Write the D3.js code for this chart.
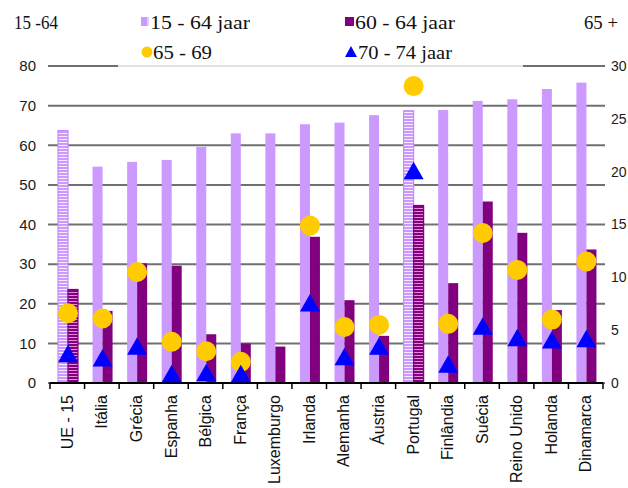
<!DOCTYPE html>
<html>
<head>
<meta charset="utf-8">
<script src="https://cdn.jsdelivr.net/npm/d3@7"></script>
<style>
  body { margin: 0; background: #fff; }
  svg { display: block; }
</style>
</head>
<body>
<svg id="chart" width="628" height="488"></svg>
<script>
// Employment rate by age group, EU-15 and member states
const categories = ["UE - 15", "Itália", "Grécia", "Espanha", "Bélgica", "França", "Luxemburgo",
  "Irlanda", "Alemanha", "Áustria", "Portugal", "Finlândia", "Suécia", "Reino Unido", "Holanda", "Dinamarca"];
const age15to64 = [63.7, 54.6, 55.8, 56.3, 59.6, 63.0, 63.0, 65.3, 65.7, 67.6, 68.7, 68.9, 71.2, 71.6, 74.2, 75.8];
const age60to64 = [23.6, 18.2, 30.2, 29.6, 12.3, 10.0, 9.2, 36.9, 20.9, 11.9, 44.8, 25.2, 45.8, 37.9, 18.4, 33.7];
const age65to69 = [6.6, 6.1, 10.5, 3.9, 3.0, 2.0, null, 14.9, 5.3, 5.5, 28.1, 5.6, 14.2, 10.7, 6.0, 11.5];
const age70to74 = [2.8, 2.4, 3.5, 0.9, 1.0, 0.9, null, 7.6, 2.5, 3.5, 20.1, 1.8, 5.4, 4.3, 4.1, 4.2];
const leftTicks = [0, 10, 20, 30, 40, 50, 60, 70, 80];
const rightTicks = [0, 5, 10, 15, 20, 25, 30];
const highlighted = ["UE - 15", "Portugal"];
const seriesNames = ["15 - 64 jaar", "60 - 64 jaar", "65 - 69", "70 - 74 jaar"];

const LIGHT = "#cc99ff", DARK = "#800080", GOLD = "#ffcc00", BLUE = "#0000ff";

const svg = d3.select("#chart");
const sans = "'Liberation Sans', Arial, sans-serif";
const serif = "'Liberation Serif', 'Times New Roman', serif";

const x = d3.scaleBand().domain(categories).range([50, 603]);
const sub = d3.scaleBand().domain(["15-64", "60-64"]).range([8, 28]);
const yL = d3.scaleLinear().domain([0, 80]).range([383, 66]);
const yR = d3.scaleLinear().domain([0, 30]).range([383, 66]);

// striped fills for the highlighted countries
const defs = svg.append("defs");
function stripes(id, base, line) {
  const p = defs.append("pattern").attr("id", id)
    .attr("patternUnits", "userSpaceOnUse").attr("width", 4).attr("height", 3);
  p.append("rect").attr("width", 4).attr("height", 3).attr("fill", base);
  p.append("rect").attr("y", 1).attr("width", 4).attr("height", 1).attr("fill", line);
}
stripes("hatchLight", LIGHT, "#f6eeff");
stripes("hatchDark", DARK, "#e58ad6");

// horizontal gridlines
svg.append("g").selectAll("line").data(leftTicks).join("line")
  .attr("x1", 48).attr("x2", 605)
  .attr("y1", d => yL(d)).attr("y2", d => yL(d))
  .attr("stroke", "#707070").attr("stroke-width", 2);

// left axis labels
svg.append("g").selectAll("text").data(leftTicks).join("text")
  .attr("x", 36).attr("y", d => yL(d)).attr("dy", "0.35em")
  .attr("text-anchor", "end").attr("font-family", sans).attr("font-size", 15)
  .attr("fill", "#1a1a1a").text(d => d);

// right axis labels
svg.append("g").selectAll("text").data(rightTicks).join("text")
  .attr("x", 611).attr("y", d => yR(d)).attr("dy", "0.35em")
  .attr("text-anchor", "start").attr("font-family", sans).attr("font-size", 14)
  .attr("fill", "#1a1a1a").text(d => d);

const rows = categories.map((c, i) => ({
  c, a: age15to64[i], b: age60to64[i], m1: age65to69[i], m2: age70to74[i],
  hl: highlighted.includes(c)
}));

// 15-64 bars
svg.append("g").selectAll("rect").data(rows).join("rect")
  .attr("x", d => x(d.c) + sub("15-64"))
  .attr("width", sub.bandwidth())
  .attr("y", d => yL(d.a))
  .attr("height", d => yL(0) - yL(d.a))
  .attr("fill", d => d.hl ? "url(#hatchLight)" : LIGHT)
  .attr("stroke", d => d.hl ? "#c58cf5" : "none")
  .attr("stroke-width", 1.2);

// 60-64 bars
svg.append("g").selectAll("rect").data(rows).join("rect")
  .attr("x", d => x(d.c) + sub("60-64"))
  .attr("width", sub.bandwidth())
  .attr("y", d => yL(d.b))
  .attr("height", d => yL(0) - yL(d.b))
  .attr("fill", d => d.hl ? "url(#hatchDark)" : DARK)
  .attr("stroke", d => d.hl ? DARK : "none")
  .attr("stroke-width", 1.2);

// base line with category ticks
const base = svg.append("g");
base.append("line").attr("x1", 50).attr("x2", 603).attr("y1", yL(0)).attr("y2", yL(0))
  .attr("stroke", "#000").attr("stroke-width", 2);
base.selectAll("line.tick").data(categories.concat(["end"])).join("line").attr("class", "tick")
  .attr("x1", (d, i) => 50 + i * x.step()).attr("x2", (d, i) => 50 + i * x.step())
  .attr("y1", yL(0)).attr("y2", yL(0) + 6)
  .attr("stroke", "#000").attr("stroke-width", 1.5);

// marker x position: between the two bars of a country
const mx = d => x(d.c) + sub("60-64");

// 65-69 circles (right axis)
svg.append("g").selectAll("circle").data(rows.filter(d => d.m1 != null)).join("circle")
  .attr("cx", mx).attr("cy", d => yR(d.m1)).attr("r", 10)
  .attr("fill", GOLD);

// 70-74 triangles (right axis)
const tri = (cx, cy) => `M${cx},${cy - 8.75}L${cx + 10},${cy + 8.75}L${cx - 10},${cy + 8.75}Z`;
svg.append("g").selectAll("path").data(rows.filter(d => d.m2 != null)).join("path")
  .attr("d", d => tri(mx(d), yR(d.m2)))
  .attr("fill", BLUE);

// category labels, rotated
svg.append("g").selectAll("text").data(categories).join("text")
  .attr("transform", d => `translate(${x(d) + x.bandwidth() / 2},395) rotate(-90)`)
  .attr("dy", "0.35em").attr("text-anchor", "end")
  .attr("font-family", sans).attr("font-size", 16).attr("fill", "#111")
  .text(d => d);

// legend
const lg = svg.append("g");
lg.append("rect").attr("x", 118).attr("y", 4).attr("width", 405).attr("height", 63)
  .attr("fill", "#fff").attr("fill-opacity", 0.8);
const legendItems = [
  { name: seriesNames[0], kind: "light", x: 150, y: 29, w: 100 },
  { name: seriesNames[1], kind: "dark", x: 355, y: 29, w: 100 },
  { name: seriesNames[2], kind: "circle", x: 153, y: 59, w: 59 },
  { name: seriesNames[3], kind: "tri", x: 358, y: 59, w: 94 }
];
legendItems.forEach(it => {
  const cy = it.y - 7;
  if (it.kind === "light") {
    lg.append("rect").attr("x", it.x - 9).attr("y", cy - 5).attr("width", 6).attr("height", 9).attr("fill", LIGHT);
    lg.append("rect").attr("x", it.x - 3).attr("y", cy - 5).attr("width", 2).attr("height", 9).attr("fill", "#e3ccff");
  } else if (it.kind === "dark") {
    lg.append("rect").attr("x", it.x - 10).attr("y", cy - 5).attr("width", 9).attr("height", 9).attr("fill", DARK);
  } else if (it.kind === "circle") {
    lg.append("circle").attr("cx", it.x - 6).attr("cy", cy).attr("r", 5.5).attr("fill", GOLD);
  } else {
    lg.append("path").attr("d", `M${it.x - 7},${cy - 6}L${it.x - 1},${cy + 5}L${it.x - 13},${cy + 5}Z`).attr("fill", BLUE);
  }
  lg.append("text").attr("x", it.x).attr("y", it.y)
    .attr("font-family", serif).attr("font-size", 19).attr("fill", "#111")
    .attr("textLength", it.w).attr("lengthAdjust", "spacingAndGlyphs")
    .text(it.name);
});

// axis captions
svg.append("text").attr("x", 14).attr("y", 29).attr("font-family", serif).attr("font-size", 19)
  .attr("textLength", 44).attr("lengthAdjust", "spacingAndGlyphs")
  .attr("fill", "#111").text("15 -64");
svg.append("text").attr("x", 584).attr("y", 29).attr("font-family", serif).attr("font-size", 19)
  .attr("textLength", 34).attr("lengthAdjust", "spacingAndGlyphs")
  .attr("fill", "#111").text("65 +");
</script>
</body>
</html>
